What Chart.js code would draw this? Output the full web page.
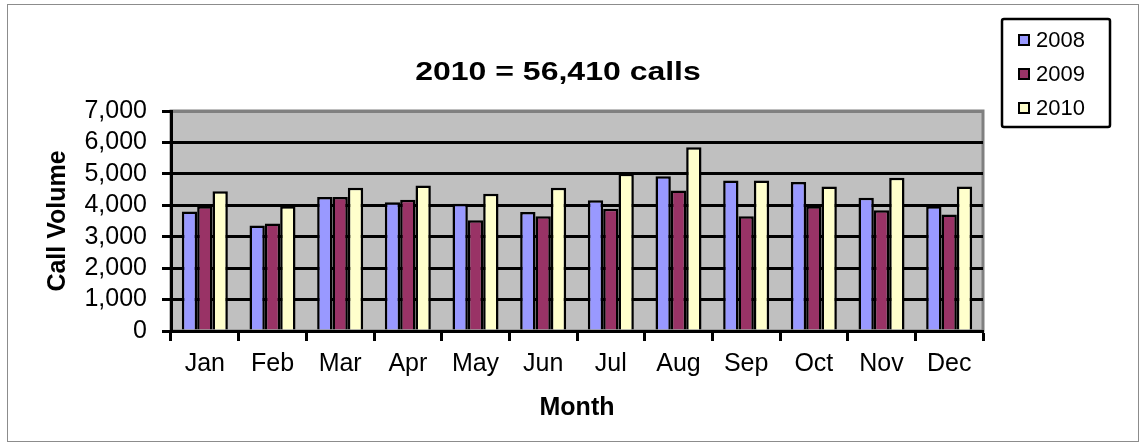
<!DOCTYPE html>
<html>
<head>
<meta charset="utf-8">
<script src="https://cdn.jsdelivr.net/npm/chart.js@4.4.0/dist/chart.umd.min.js"></script>
<style>
  html, body { margin: 0; padding: 0; background: #fff; }
  canvas { display: block; }
</style>
</head>
<body>
<canvas id="calls" width="1146" height="445"></canvas>
<script>
const months = ['Jan', 'Feb', 'Mar', 'Apr', 'May', 'Jun', 'Jul', 'Aug', 'Sep', 'Oct', 'Nov', 'Dec'];
const years = ['2008', '2009', '2010'];
const calls2008 = [3800, 3360, 4260, 4100, 4050, 3790, 4160, 4920, 4790, 4740, 4240, 3970];
const calls2009 = [3970, 3420, 4260, 4180, 3520, 3650, 3890, 4470, 3650, 3970, 3840, 3710];
const calls2010 = [4450, 3970, 4560, 4630, 4370, 4560, 5000, 5850, 4790, 4600, 4880, 4600];
const yTicks = [0, 1000, 2000, 3000, 4000, 5000, 6000, 7000];
const titleText = '2010 = 56,410 calls';

const colors = ['#9999FF', '#993366', '#FFFFCC'];
const FONT = "'Liberation Sans', Arial, sans-serif";

// gray plot area, frame round the whole picture, title and boxed legend
const decor = {
  id: 'decor',
  beforeDraw(chart) {
    const {ctx, chartArea: a} = chart;
    ctx.save();
    ctx.fillStyle = '#fff';
    ctx.fillRect(0, 0, chart.width, chart.height);
    ctx.strokeStyle = '#8c8c8c';
    ctx.lineWidth = 1;
    ctx.strokeRect(7.5, 4.5, 1131, 437);
    ctx.fillStyle = '#C0C0C0';
    ctx.fillRect(a.left, a.top, a.right - a.left, a.bottom - a.top);
    ctx.strokeStyle = '#808080';
    ctx.lineWidth = 3;
    ctx.strokeRect(a.left, a.top, a.right - a.left, a.bottom - a.top);
    ctx.restore();
  },
  afterDraw(chart) {
    const ctx = chart.ctx;
    ctx.save();
    // title
    ctx.translate(558, 73);
    ctx.scale(1.28, 1);
    ctx.font = 'bold 25px ' + FONT;
    ctx.fillStyle = '#000';
    ctx.textAlign = 'center';
    ctx.textBaseline = 'middle';
    ctx.fillText(titleText, 0, 0);
    ctx.restore();

    // legend
    ctx.save();
    ctx.strokeStyle = '#000';
    ctx.lineWidth = 2.5;
    ctx.beginPath();
    ctx.roundRect(1002, 19, 108, 108, 2);
    ctx.stroke();
    const rows = [40, 74, 108];
    ctx.font = '22px ' + FONT;
    ctx.textBaseline = 'middle';
    chart.data.datasets.forEach((ds, i) => {
      ctx.fillStyle = ds.backgroundColor;
      ctx.fillRect(1019, rows[i] - 5, 10, 10);
      ctx.lineWidth = 2;
      ctx.strokeRect(1019, rows[i] - 5, 10, 10);
      ctx.fillStyle = '#000';
      ctx.fillText(ds.label, 1036, rows[i] + 1);
    });
    ctx.restore();
  }
};

const ctx1 = document.getElementById('calls');

const chart = new Chart(ctx1, {
  type: 'bar',
  data: {
    labels: months,
    datasets: [calls2008, calls2009, calls2010].map((vals, i) => ({
      label: years[i],
      data: vals,
      backgroundColor: colors[i],
      borderColor: '#000',
      borderWidth: 2.5,
      borderSkipped: 'start',
      categoryPercentage: 0.68,
      barPercentage: 1.0
    }))
  },
  options: {
    responsive: false,
    animation: false,
    devicePixelRatio: 1,
    layout: {
      padding: {left: 10, right: 163, top: 111, bottom: 22}
    },
    plugins: {
      legend: {display: false},
      title: {display: false},
      tooltip: {enabled: false}
    },
    scales: {
      x: {
        afterFit: scale => { scale.height = 92; },
        grid: {
          offset: true,
          drawOnChartArea: false,
          drawTicks: true,
          tickLength: 10,
          tickWidth: 3,
          tickColor: '#000'
        },
        border: {color: '#000', width: 3},
        ticks: {
          color: '#000',
          font: {family: FONT, size: 25},
          padding: 8,
          autoSkip: false,
          maxRotation: 0
        },
        title: {
          display: true,
          text: 'Month',
          color: '#000',
          font: {family: FONT, size: 25, weight: 'bold'},
          padding: {top: 0, bottom: 0}
        }
      },
      y: {
        min: 0,
        max: 7000,
        afterFit: scale => { scale.width = 161; },
        afterBuildTicks: scale => {
          scale.ticks = yTicks.map(v => ({value: v}));
        },
        grid: {
          color: c => (c.tick && c.tick.value === 7000 ? '#808080' : '#000'),
          lineWidth: 3,
          drawTicks: true,
          tickLength: 9,
          tickWidth: 3,
          tickColor: '#000'
        },
        border: {color: '#000', width: 3},
        ticks: {
          color: '#000',
          font: {family: FONT, size: 25},
          padding: 15,
          autoSkip: false,
          callback: value => value.toLocaleString('en-US')
        },
        title: {
          display: true,
          text: 'Call Volume',
          color: '#000',
          font: {family: FONT, size: 25, weight: 'bold'},
          padding: {top: 33, bottom: 0}
        }
      }
    }
  },
  plugins: [decor]
});
</script>
</body>
</html>
